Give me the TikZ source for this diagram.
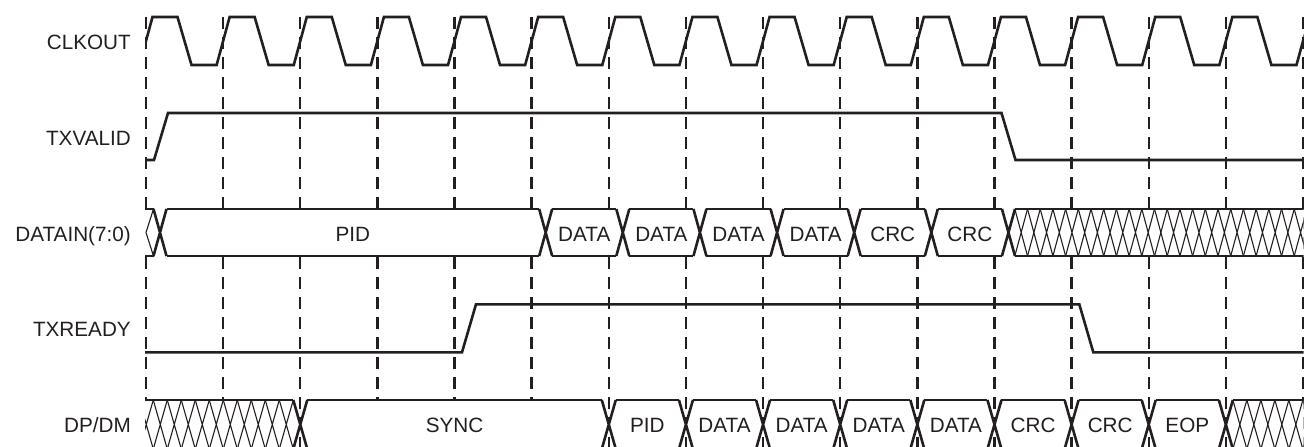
\documentclass[tikz,border=0pt]{standalone}
\usepackage{fontspec}
\setmainfont{Liberation Sans}
\definecolor{ink}{HTML}{231F20}
\begin{document}
\begin{tikzpicture}[x=1pt,y=-1pt,
  sig/.style={line width=2.6pt, draw=ink, line join=miter},
  hatch/.style={line width=1.1pt, draw=ink},
  blank/.style={fill=white},
  gridline/.style={line width=2.4pt, draw=ink, dash pattern=on 12pt off 8pt},
  lab/.style={font=\fontsize{20.7}{24}\selectfont, text=ink, inner sep=0pt}]
\useasboundingbox (0,0) rectangle (1307,447);
\pgfmathsetmacro{\P}{77.133}
% dashed clock-edge markers
\foreach \k in {0,...,15}
  \draw[gridline] ({146+\P*\k},17) -- ({146+\P*\k},447);
% signal names
\node[lab, anchor=base east] (nclk) at (131,49) {CLKOUT};
\node[lab, anchor=base east] (nval) at (131,145.7) {TXVALID};
\node[lab, anchor=base east] (ndat) at (131,241) {DATAIN(7:0)};
\node[lab, anchor=base east] (nrdy) at (131,336.7) {TXREADY};
\node[lab, anchor=base east] (ndp) at (131,432.3) {DP/DM};
\begin{scope}
\clip (145,0) rectangle (1303.5,447);
% CLKOUT
\draw[sig] (139.5,65) \foreach \k in {0,...,15}{
  -- ({146+\P*\k-6.5},65) -- ({146+\P*\k+6.5},17)
  -- ({146+\P*\k+31.5},17) -- ({146+\P*\k+45.5},65)};
% TXVALID
\draw[sig] (145,160) -- (154,160) -- (168,113) -- (1001.5,113) -- (1015.5,160) -- (1304,160);
% TXREADY
\draw[sig] (145,352.3) -- (462,352.3) -- (476,304.3) -- (1079.3,304.3) -- (1093.3,352.3) -- (1304,352.3);
% ---------- DATAIN bus: top 209, bottom 256, mid 232.5
% white backgrounds
\fill[blank] (145,209) -- (153.5,209) -- (160,232.5) -- (153.5,256) -- (145,256) -- cycle;
\foreach \a/\b in {0/5,5/6,6/7,7/8,8/9,9/10,10/11}
  \fill[blank] ({160+\P*\a},232.5) -- ({160+\P*\a+6.5},209) -- ({160+\P*\b-6.5},209)
     -- ({160+\P*\b},232.5) -- ({160+\P*\b-6.5},256) -- ({160+\P*\a+6.5},256) -- cycle;
\fill[blank] ({160+\P*11},232.5) -- ({160+\P*11+6.5},209) -- (1304,209) -- (1304,256)
     -- ({160+\P*11+6.5},256) -- cycle;
% lines
\draw[sig] (145,209) -- (153.5,209) (145,256) -- (153.5,256);
\draw[hatch] (146,232.5) -- (153.5,209) (146,232.5) -- (153.5,256);
\foreach \k in {0,5,6,7,8,9,10,11}
  \draw[sig] ({160+\P*\k-6.5},209) -- ({160+\P*\k+6.5},256)
             ({160+\P*\k-6.5},256) -- ({160+\P*\k+6.5},209);
\foreach \a/\b in {0/5,5/6,6/7,7/8,8/9,9/10,10/11}
  \draw[sig] ({160+\P*\a+6.5},209) -- ({160+\P*\b-6.5},209)
             ({160+\P*\a+6.5},256) -- ({160+\P*\b-6.5},256);
\draw[sig] ({160+\P*11+6.5},209) -- (1304,209) ({160+\P*11+6.5},256) -- (1304,256);
\foreach \j in {1,...,24}
  \draw[hatch] ({160+\P*11+12.7*\j-6.35},209) -- ({160+\P*11+12.7*\j+6.35},256)
               ({160+\P*11+12.7*\j-6.35},256) -- ({160+\P*11+12.7*\j+6.35},209);
% ---------- DP/DM bus: top 400, bottom 449, mid 424.5
\fill[blank] (145,400) -- ({146+\P*2-7},400) -- ({146+\P*2},424.5) -- ({146+\P*2-7},449)
     -- (145,449) -- cycle;
\foreach \a/\b in {2/6,6/7,7/8,8/9,9/10,10/11,11/12,12/13,13/14}
  \fill[blank] ({146+\P*\a},424.5) -- ({146+\P*\a+7},400) -- ({146+\P*\b-7},400)
     -- ({146+\P*\b},424.5) -- ({146+\P*\b-7},449) -- ({146+\P*\a+7},449) -- cycle;
\fill[blank] ({146+\P*14},424.5) -- ({146+\P*14+7},400) -- (1304,400) -- (1304,449)
     -- ({146+\P*14+7},449) -- cycle;
\foreach \k in {2,6,7,8,9,10,11,12,13,14}
  \draw[sig] ({146+\P*\k-7},400) -- ({146+\P*\k+7},449)
             ({146+\P*\k-7},449) -- ({146+\P*\k+7},400);
\foreach \a/\b in {2/6,6/7,7/8,8/9,9/10,10/11,11/12,12/13,13/14}
  \draw[sig] ({146+\P*\a+7},400) -- ({146+\P*\b-7},400)
             ({146+\P*\a+7},449) -- ({146+\P*\b-7},449);
\draw[sig] (145,400) -- ({146+\P*2-7},400) (145,449) -- ({146+\P*2-7},449);
\foreach \j in {1,...,11}
  \draw[hatch] ({146+\P*2-14*\j-7},400) -- ({146+\P*2-14*\j+7},449)
               ({146+\P*2-14*\j-7},449) -- ({146+\P*2-14*\j+7},400);
\draw[sig] ({146+\P*14+7},400) -- (1304,400) ({146+\P*14+7},449) -- (1304,449);
\foreach \j in {1,...,6}
  \draw[hatch] ({146+\P*14+14*\j-7},400) -- ({146+\P*14+14*\j+7},449)
               ({146+\P*14+14*\j-7},449) -- ({146+\P*14+14*\j+7},400);
\end{scope}
% DATAIN labels
\node[lab, anchor=base] (dpid) at ({160+\P*2.5},241) {PID};
\foreach \k/\t in {5/DATA,6/DATA,7/DATA,8/DATA,9/CRC,10/CRC}
  \node[lab, anchor=base] (d\k) at ({160+\P*\k+\P/2},241) {\t};
% DP/DM labels
\node[lab, anchor=base] (psync) at ({146+\P*4},432.3) {SYNC};
\foreach \k/\t in {6/PID,7/DATA,8/DATA,9/DATA,10/DATA,11/CRC,12/CRC,13/EOP}
  \node[lab, anchor=base] (p\k) at ({146+\P*\k+\P/2},432.3) {\t};
\end{tikzpicture}
\end{document}
